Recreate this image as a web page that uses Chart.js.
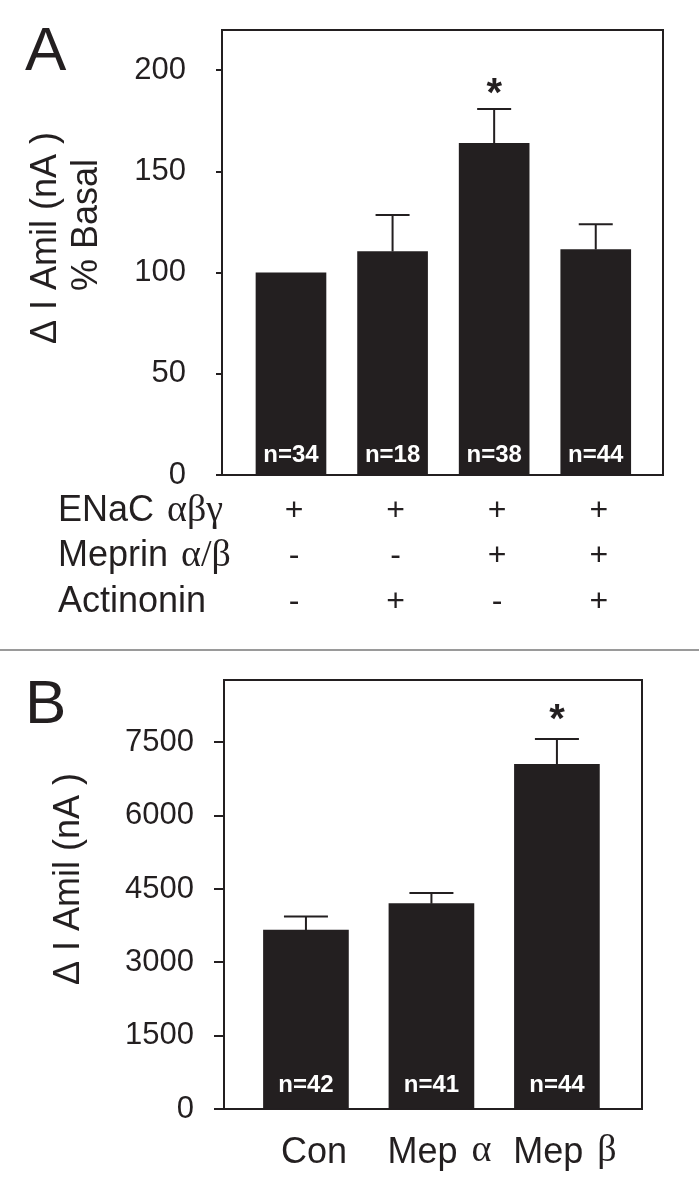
<!DOCTYPE html>
<html>
<head>
<meta charset="utf-8">
<script src="https://cdn.jsdelivr.net/npm/chart.js@4.4.0/dist/chart.umd.min.js"></script>
<style>
  body { margin: 0; background: #fff; }
  #wrap { position: relative; width: 699px; height: 1204px; }
  #chartA { position: absolute; left: 0; top: 0; }
  #chartB { position: absolute; left: 0; top: 651px; }
  #sep { position: absolute; left: 0; top: 649px; width: 699px; height: 2px; background: #9a9a9a; }
</style>
</head>
<body>
<div id="wrap">
  <canvas id="chartA" width="699" height="649"></canvas>
  <div id="sep"></div>
  <canvas id="chartB" width="699" height="553"></canvas>
</div>
<script>
// Panel A data (% basal)
const valuesA = [100, 110.5, 164, 111.5];
const errorsA = [0, 18, 17, 12.5];
const countsA = ['n=34', 'n=18', 'n=38', 'n=44'];
const starsA = ['', '', '*', ''];
const yTicksA = [0, 50, 100, 150, 200];
const rowNamesA = ['ENaC', 'Meprin', 'Actinonin'];
const rowGreekA = ['αβγ', 'α/β', ''];
const enacA = ['+', '+', '+', '+'];
const meprinA = ['-', '-', '+', '+'];
const actinoninA = ['-', '+', '-', '+'];

// Panel B data (nA)
const categoriesB = ['Con', 'Mep', 'Mep'];
const greekB = ['', 'α', 'β'];
const valuesB = [3660, 4200, 7050];
const errorsB = [275, 218, 518];
const countsB = ['n=42', 'n=41', 'n=44'];
const starsB = ['', '', '*'];
const yTicksB = [0, 1500, 3000, 4500, 6000, 7500];

const ink = '#231f20';
const sans = "'Liberation Sans', Arial, sans-serif";
const serif = "'Liberation Serif', 'Times New Roman', serif";

// draws error bars, n labels, asterisks, box and text around the plot
const extrasPlugin = {
    id: 'extras',
    afterDatasetsDraw(chart, args, o) {
        const { ctx, scales: { x, y } } = chart;
        ctx.save();
        ctx.strokeStyle = ink;
        ctx.lineWidth = 2;
        o.values.forEach((v, i) => {
            const cx = x.getPixelForValue(i + 1);
            const top = y.getPixelForValue(v);
            const cap = y.getPixelForValue(v + o.errors[i]);
            if (o.errors[i] > 0) {
                ctx.beginPath();
                ctx.moveTo(cx, top);
                ctx.lineTo(cx, cap);
                ctx.moveTo(cx - o.capHalf, cap);
                ctx.lineTo(cx + o.capHalf, cap);
                ctx.stroke();
            }
            // n label inside bar
            ctx.fillStyle = '#fff';
            ctx.font = 'bold 24px ' + sans;
            ctx.textAlign = 'center';
            ctx.textBaseline = 'middle';
            ctx.fillText(o.counts[i], cx, y.getPixelForValue(0) - o.nOffset);
            // significance
            if (o.stars[i]) {
                ctx.fillStyle = ink;
                ctx.font = 'bold 40px ' + sans;
                ctx.textBaseline = 'alphabetic';
                ctx.fillText(o.stars[i], cx, cap + o.starDrop);
            }
        });
        ctx.restore();
    },
    afterDraw(chart, args, o) {
        const { ctx, chartArea: a, scales: { x } } = chart;
        ctx.save();
        // top and right edges of the box
        ctx.strokeStyle = ink;
        ctx.lineWidth = 2;
        ctx.beginPath();
        ctx.moveTo(a.left - 1, a.top);
        ctx.lineTo(a.right, a.top);
        ctx.lineTo(a.right, a.bottom);
        ctx.stroke();

        ctx.fillStyle = ink;
        // panel letter
        ctx.font = '62px ' + sans;
        ctx.textAlign = 'left';
        ctx.textBaseline = 'alphabetic';
        ctx.fillText(o.letter, 25, o.letterY);

        // y title, rotated
        ctx.font = '36px ' + sans;
        ctx.textAlign = 'center';
        ctx.textBaseline = 'middle';
        o.titles.forEach(t => {
            ctx.save();
            ctx.translate(t.x, t.y);
            ctx.rotate(-Math.PI / 2);
            ctx.fillText(t.text, 0, 0);
            ctx.restore();
        });

        if (o.table) {
            const rows = [enacA, meprinA, actinoninA];
            const rowY = [511, 556, 602];
            rows.forEach((signs, r) => {
                ctx.textAlign = 'left';
                ctx.font = '36px ' + sans;
                ctx.fillText(rowNamesA[r], 58, rowY[r]);
                const w = ctx.measureText(rowNamesA[r]).width;
                ctx.font = '38px ' + serif;
                ctx.fillText(rowGreekA[r], 58 + w + 13, rowY[r]);
                ctx.textAlign = 'center';
                ctx.font = '32px ' + sans;
                signs.forEach((s, i) => {
                    ctx.fillText(s, x.getPixelForValue(i + 1) + 3, rowY[r]);
                });
            });
        }

        if (o.xlabels) {
            ctx.textBaseline = 'alphabetic';
            ctx.textAlign = 'left';
            categoriesB.forEach((name, i) => {
                ctx.font = '36px ' + sans;
                const w1 = ctx.measureText(name).width;
                ctx.font = '38px ' + serif;
                const w2 = greekB[i] ? ctx.measureText(greekB[i]).width + 14 : 0;
                const start = x.getPixelForValue(i + 1) + 8 - (w1 + w2) / 2;
                ctx.font = '36px ' + sans;
                ctx.fillText(name, start, 512);
                if (greekB[i]) {
                    ctx.font = '38px ' + serif;
                    ctx.fillText(greekB[i], start + w1 + 14, 510);
                }
            });
        }
        ctx.restore();
    }
};

function makeChart(id, cfg) {
    return new Chart(document.getElementById(id), {
        type: 'bar',
        data: {
            datasets: [{
                data: cfg.values.map((v, i) => ({ x: i + 1, y: v })),
                backgroundColor: ink,
                borderWidth: 0,
                barThickness: cfg.barWidth
            }]
        },
        options: {
            responsive: false,
            animation: false,
            devicePixelRatio: 1,
            layout: { padding: { top: cfg.top, right: cfg.right, left: 0, bottom: 0 } },
            scales: {
                x: {
                    type: 'linear',
                    offset: false,
                    min: cfg.xMin,
                    max: cfg.xMax,
                    grid: { display: false },
                    border: { display: true, color: ink, width: 2 },
                    ticks: { display: false },
                    afterFit: s => {
                        s.height = cfg.xHeight;
                        s.paddingLeft = s.paddingRight = 0;
                    }
                },
                y: {
                    min: 0,
                    max: cfg.yMax,
                    afterBuildTicks: s => { s.ticks = cfg.yTicks.map(v => ({ value: v })); },
                    grid: { drawOnChartArea: false, drawTicks: true, tickLength: cfg.tickLen, color: ink, lineWidth: 2 },
                    border: { display: true, color: ink, width: 2 },
                    ticks: {
                        padding: cfg.tickPad, color: ink, font: { family: sans, size: 31 },
                        callback: v => String(v)
                    },
                    afterFit: s => {
                        s.width = cfg.left;
                        s.paddingTop = s.paddingBottom = 0;
                    }
                }
            },
            plugins: {
                legend: { display: false },
                tooltip: { enabled: false },
                extras: cfg.extras
            }
        },
        plugins: [extrasPlugin]
    });
}

makeChart('chartA', {
    values: valuesA, barWidth: 70,
    top: 30, right: 36, left: 222, xHeight: 174,
    xMin: 0.321, xMax: 4.662, yMax: 220, yTicks: yTicksA,
    tickLen: 6, tickPad: 30,
    extras: {
        values: valuesA, errors: errorsA, counts: countsA, stars: starsA,
        capHalf: 17, nOffset: 20, starDrop: -3, letter: 'A', letterY: 70,
        titles: [{ text: 'Δ I Amil (nA )', x: 46, y: 238 }, { text: '% Basal', x: 87, y: 225 }],
        table: true
    }
});

makeChart('chartB', {
    values: valuesB, barWidth: 85,
    top: 29, right: 57, left: 224, xHeight: 95,
    xMin: 0.347, xMax: 3.678, yMax: 8775, yTicks: yTicksB,
    tickLen: 10, tickPad: 20,
    extras: {
        values: valuesB, errors: errorsB, counts: countsB, stars: starsB,
        capHalf: 22, nOffset: 24, starDrop: -7, letter: 'B', letterY: 72,
        titles: [{ text: 'Δ I Amil (nA )', x: 69, y: 228 }],
        xlabels: true
    }
});
</script>
</body>
</html>
